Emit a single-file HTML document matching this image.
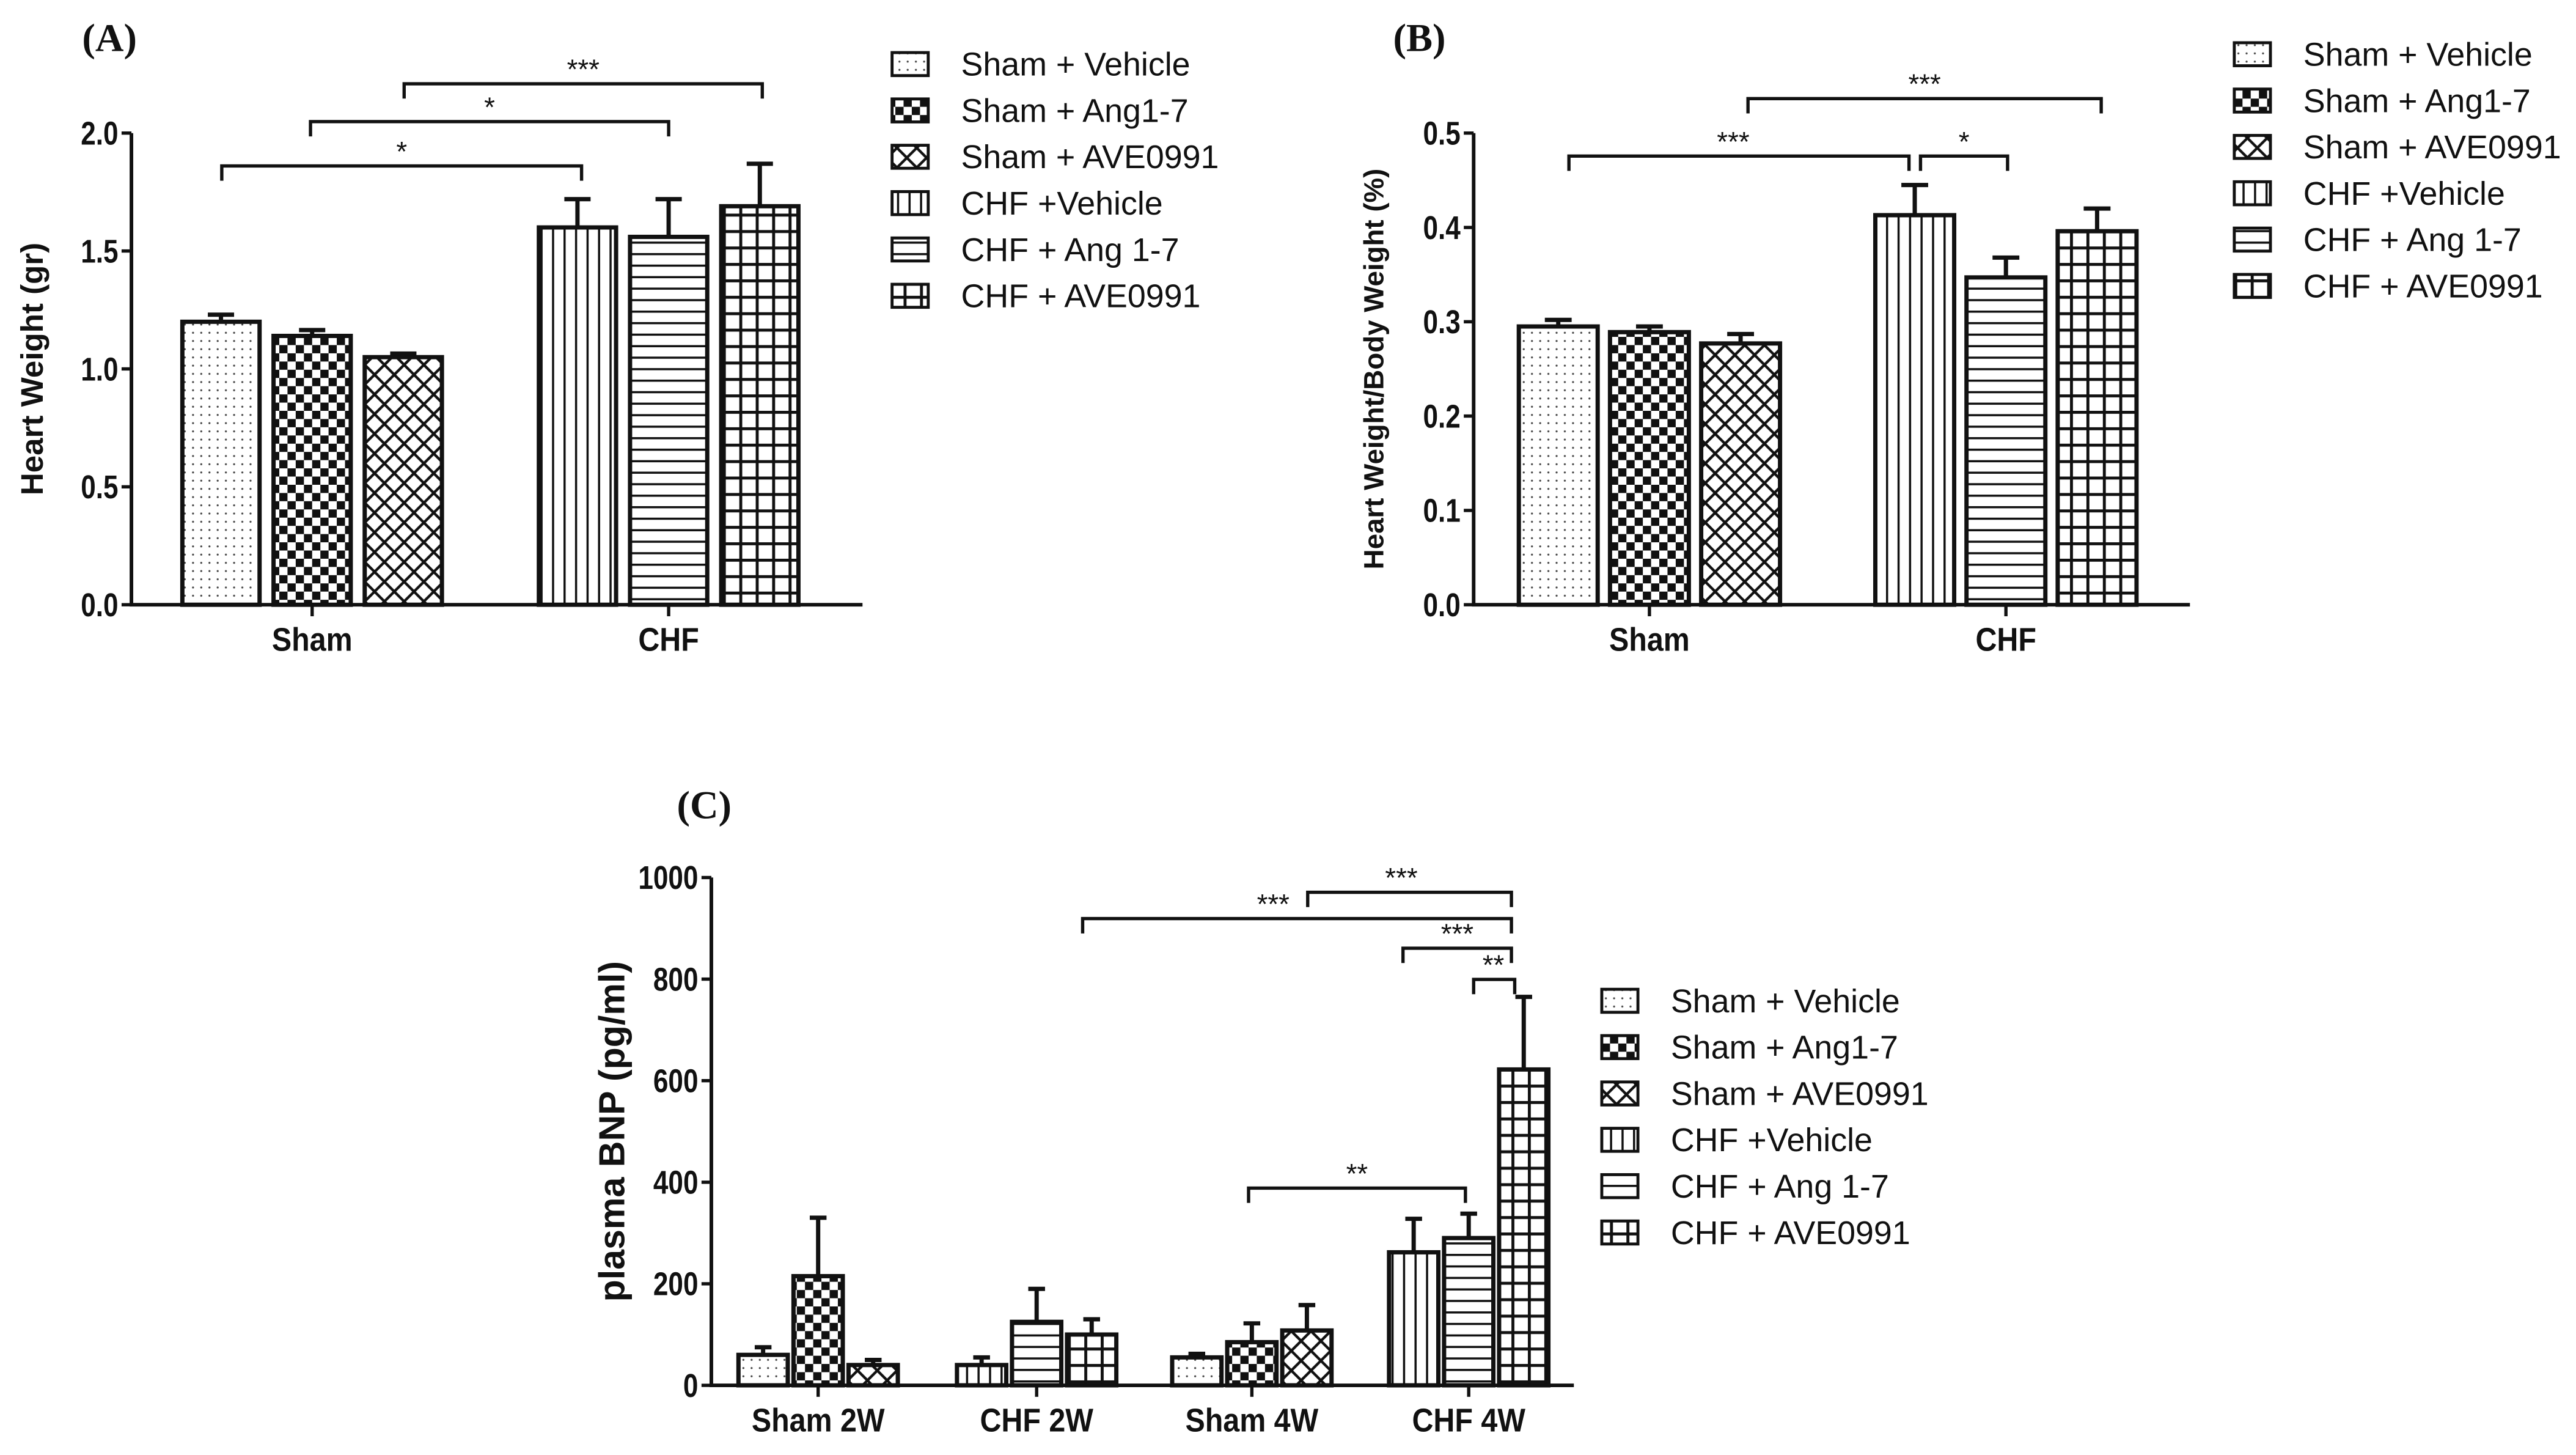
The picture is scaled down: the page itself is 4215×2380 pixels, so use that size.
<!DOCTYPE html>
<html><head><meta charset="utf-8">
<style>
html,body{margin:0;padding:0;background:#fff;}
svg{display:block;}
text{font-family:"Liberation Sans",Arial,sans-serif;fill:#111;}
</style></head>
<body>
<svg id="fig" width="4215" height="2380" viewBox="0 0 1568 885.4" preserveAspectRatio="none" xmlns="http://www.w3.org/2000/svg">
<defs>
  <pattern id="p0" patternUnits="userSpaceOnUse" width="5" height="5"><rect width="5" height="5" fill="#fff"/><circle cx="2.5" cy="2.5" r="0.6" fill="#444"/></pattern>
  <pattern id="p1" patternUnits="userSpaceOnUse" width="10" height="10"><rect width="10" height="10" fill="#fff"/><rect width="5" height="5" fill="#111"/><rect x="5" y="5" width="5" height="5" fill="#111"/></pattern>
  <pattern id="p2" patternUnits="userSpaceOnUse" width="12" height="12"><rect width="12" height="12" fill="#fff"/><path d="M0,0L12,12M12,0L0,12" stroke="#111" stroke-width="1.6"/></pattern>
  <pattern id="p3" patternUnits="userSpaceOnUse" width="7" height="7"><rect width="7" height="7" fill="#fff"/><rect x="0" y="0" width="1.3" height="7" fill="#111"/></pattern>
  <pattern id="p4" patternUnits="userSpaceOnUse" width="7" height="7"><rect width="7" height="7" fill="#fff"/><rect x="0" y="0" width="7" height="1.3" fill="#111"/></pattern>
  <pattern id="p5" patternUnits="userSpaceOnUse" width="10" height="10"><rect width="10" height="10" fill="#fff"/><rect x="0" y="0" width="1.8" height="10" fill="#111"/><rect x="0" y="0" width="10" height="1.8" fill="#111"/></pattern>
</defs>
</svg>
<script>
const legendLabels = ["Sham + Vehicle","Sham + Ang1-7","Sham + AVE0991","CHF +Vehicle","CHF + Ang 1-7","CHF + AVE0991"];
// Panel A
const aCategories = ["Sham","CHF"];
const aValues = [1.20,1.14,1.05,1.60,1.56,1.69];
const aErrors = [0.03,0.025,0.015,0.12,0.16,0.18];
const aTicks = ["0.0","0.5","1.0","1.5","2.0"];
// Panel B
const bCategories = ["Sham","CHF"];
const bValues = [0.295,0.289,0.277,0.413,0.347,0.396];
const bErrors = [0.007,0.006,0.010,0.032,0.021,0.024];
const bTicks = ["0.0","0.1","0.2","0.3","0.4","0.5"];
// Panel C
const cCategories = ["Sham 2W","CHF 2W","Sham 4W","CHF 4W"];
const cValues = [60,215,40, 40,125,100, 55,85,108, 262,290,622];
const cErrors = [15,115,10, 15,65,30, 7,37,50, 66,48,143];
const cTicks = ["0","200","400","600","800","1000"];

const svg = document.getElementById('fig');
const NS = 'http://www.w3.org/2000/svg';
function mk(tag, attrs, parent){
  const e = document.createElementNS(NS, tag);
  for (const k in attrs) e.setAttribute(k, attrs[k]);
  (parent||svg).appendChild(e);
  return e;
}

function panel(cfg){
  const g = mk('g', {});
  
  
  const ymax = parseFloat(cfg.ticks[cfg.ticks.length-1]);
  const y = v => cfg.y0 - (v/ymax)*(cfg.y0-cfg.yTop);
  const pl = mk('text', {x:cfg.labelX, y:cfg.labelY, 'font-size':24, 'font-weight':'bold', style:'font-family:"Liberation Serif",serif'}, g);
  pl.textContent = cfg.label;
  
  
  const nPer = cfg.values.length / cfg.cats.length;
  cfg.values.forEach((v,i)=>{
    const gi = Math.floor(i/nPer), k = i % nPer;
    const cx = cfg.catX(gi) + (k-(nPer-1)/2)*cfg.step;
    const pat = cfg.patIdx(i);
    const r = mk('rect', {x:cx-cfg.bw/2, y:y(v), width:cfg.bw, height:cfg.y0-y(v), fill:'url(#p'+pat+')', stroke:'#111', 'stroke-width':2.6}, g);
    
    
    const top = y(v+cfg.errors[i]);
    const el = mk('path', {d:`M${cx},${y(v)}V${top}M${cx-cfg.bw*0.17},${top}H${cx+cfg.bw*0.17}`, stroke:'#111', 'stroke-width':2.6, fill:'none'}, g);
    
    
  });
  const ax = mk('path', {d:`M${cfg.x0},${cfg.yTop}V${cfg.y0}H${cfg.xEnd}`, stroke:'#111', 'stroke-width':2.2, fill:'none'}, g);
  
  
  cfg.ticks.forEach(t=>{
    const yy = y(parseFloat(t));
    mk('path', {d:`M${cfg.x0-6},${yy}H${cfg.x0}`, stroke:'#111', 'stroke-width':2}, g);
    const tx = mk('text', {x:cfg.x0-8, y:yy+7, 'font-size':20, 'font-weight':'bold', 'text-anchor':'end', transform:`translate(${cfg.x0-8},0) scale(0.82,1) translate(${-(cfg.x0-8)},0)`}, g);
    tx.textContent = t;
    
    
  });
  cfg.cats.forEach((c,gi)=>{
    const cx = cfg.catX(gi);
    mk('path', {d:`M${cx},${cfg.y0}V${cfg.y0+7}`, stroke:'#111', 'stroke-width':2}, g);
    const t = mk('text', {x:cx, y:cfg.y0+28, 'font-size':20, 'font-weight':'bold', 'text-anchor':'middle', transform:`translate(${cx},0) scale(0.9,1) translate(${-cx},0)`}, g);
    t.textContent = c;
    
    
  });
  const yt = mk('text', {x:0, y:0, 'font-size':cfg.titleSize, 'font-weight':'bold', 'text-anchor':'middle', transform:`translate(${cfg.titleX},${(cfg.y0+cfg.yTop)/2}) rotate(-90)`}, g);
  yt.textContent = cfg.title;
  
  
  cfg.brackets.forEach(b=>{
    const p = mk('path', {d:`M${b[0]},${b[2]+9}V${b[2]}H${b[1]}V${b[2]+9}`, stroke:'#111', 'stroke-width':2, fill:'none'}, g);
    
    
    const s = mk('text', {x:b[4]!==undefined?b[4]:(b[0]+b[1])/2, y:b[2]-3, 'font-size':17, 'text-anchor':'middle'}, g);
    s.textContent = b[3];
    
    
  });
  legendLabels.forEach((l,i)=>{
    const yy = cfg.legY + i*28.2;
    const sw = mk('rect', {x:cfg.legX, y:yy-7, width:22, height:14, fill:'url(#p'+i+')', stroke:'#111', 'stroke-width':1.8}, g);
    
    
    const t = mk('text', {x:cfg.legX+42, y:yy+7, 'font-size':20}, g);
    t.textContent = l;
    
    
  });
}

panel({name:'panel-a', label:'(A)', labelX:50, labelY:31, values:aValues, errors:aErrors, cats:aCategories, ticks:aTicks,
  x0:80, xEnd:525, y0:368, yTop:81, catX:g=>[190,407][g], step:55.5, bw:47, patIdx:i=>i,
  title:'Heart Weight (gr)', titleX:26, titleSize:19, legX:543, legY:39,
  brackets:[[135,354,101,'*'],[189,407,74,'*'],[246,464,51,'***']]});
panel({name:'panel-b', label:'(B)', labelX:848, labelY:31, values:bValues, errors:bErrors, cats:bCategories, ticks:bTicks,
  x0:897, xEnd:1333, y0:368, yTop:81, catX:g=>[1004,1221][g], step:55.5, bw:48, patIdx:i=>i,
  title:'Heart Weight/Body Weight (%)', titleX:842, titleSize:17, legX:1360, legY:33,
  brackets:[[955,1162,95,'***',1055],[1169,1222,95,'*'],[1064,1279,60,'***']]});
panel({name:'panel-c', label:'(C)', labelX:412, labelY:498, values:cValues, errors:cErrors, cats:cCategories, ticks:cTicks,
  x0:433, xEnd:958, y0:843, yTop:534, catX:g=>[498,631,762,894][g], step:33.5, bw:30, patIdx:i=>[0,1,2,3,4,5,0,1,2,3,4,5][i],
  title:'plasma BNP (pg/ml)', titleX:380, titleSize:22, legX:975, legY:609,
  brackets:[[796,920,543,'***',853],[659,920,559,'***',775],[854,920,577,'***',887],[897,922,596,'**',909],[760,892,723,'**',826]]});
</script>
</body></html>
